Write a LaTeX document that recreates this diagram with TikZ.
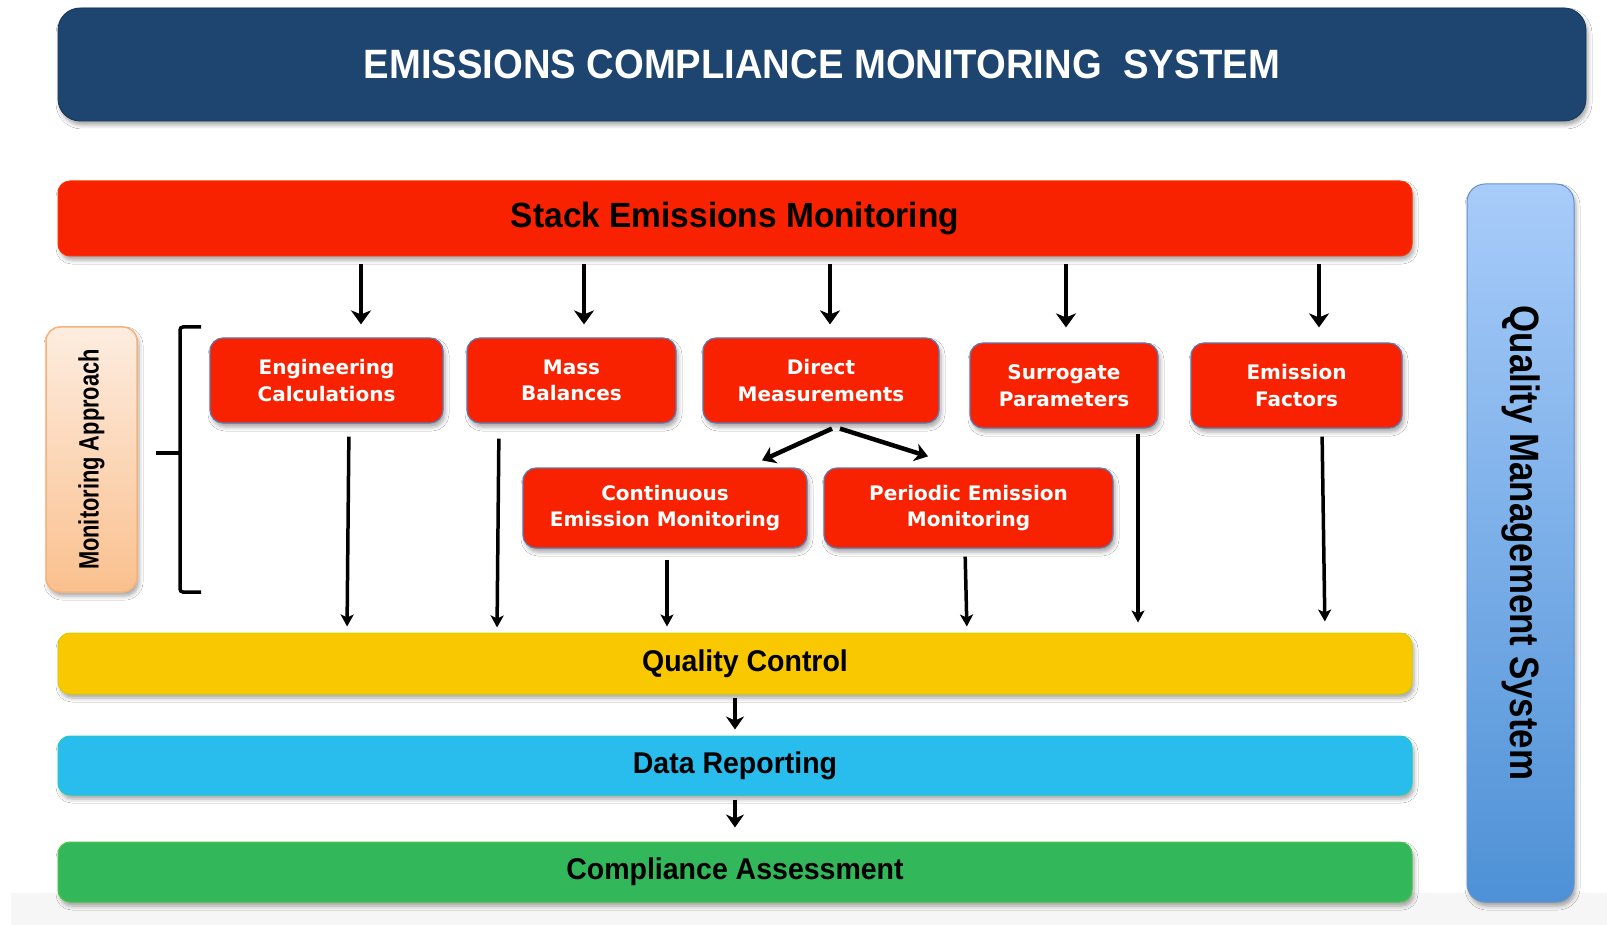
\documentclass[tikz,border=0pt]{standalone}
\usepackage{fontspec}
\usepackage{graphicx}
\setmainfont{Liberation Sans}
\newfontfamily\dvs{DejaVu Sans}
\usetikzlibrary{arrows.meta,shadows.blur}
\definecolor{titleblue}{RGB}{29,69,111}
\definecolor{boxred}{RGB}{248,34,0}
\definecolor{boxedge}{RGB}{95,120,175}
\definecolor{qcyellow}{RGB}{250,200,0}
\definecolor{drblue}{RGB}{41,189,238}
\definecolor{cagreen}{RGB}{50,184,90}
\definecolor{qmstop}{RGB}{168,204,250}
\definecolor{qmsbot}{RGB}{78,145,214}
\definecolor{qmsedge}{RGB}{100,145,205}
\definecolor{matop}{RGB}{253,237,224}
\definecolor{mabot}{RGB}{250,192,142}
\definecolor{maedge}{RGB}{245,178,122}
\definecolor{bandgray}{RGB}{246,246,246}
\begin{document}
\begin{tikzpicture}[x=1pt,y=-1pt,
  shad/.style={blur shadow={shadow xshift=2pt,shadow yshift=-4pt,shadow blur radius=4pt,shadow opacity=35}},
  titlebox/.style={rectangle,rounded corners=22pt,fill=titleblue,draw=titleblue!80!black,line width=0.8pt,
    minimum width=1528pt,minimum height=113pt,inner sep=0pt,text=white,
    font=\bfseries\fontsize{41}{48}\selectfont,shad},
  bar/.style={rectangle,rounded corners=12pt,minimum width=1354pt,inner sep=0pt,line width=1pt,shad},
  bartext/.style={font=\bfseries\fontsize{30}{36}\selectfont,text=black},
  redbox/.style={rectangle,rounded corners=13pt,fill=boxred,draw=boxedge,line width=1.2pt,text=white,
    font=\dvs\bfseries\fontsize{20}{26.5}\selectfont,align=center,inner sep=0pt,shad},
  toparr/.style={-{Stealth[length=14pt,width=20pt,inset=4pt]},line width=4.5pt},
  downarr/.style={-{Stealth[length=12pt,width=13pt,inset=3pt]},line width=3.5pt},
  midarr/.style={-{Stealth[length=13pt,width=18pt,inset=4pt]},line width=4.5pt}
]
\useasboundingbox (0,0) rectangle (1607,925);
\fill[white] (0,0) rectangle (1607,925);
\fill[bandgray] (11,893) rectangle (1607,925);

% title
\node[titlebox] (title) at (822,64.5) {\scalebox{0.932}[1]{EMISSIONS COMPLIANCE MONITORING\ \ SYSTEM}};

% stack bar
\node[bar,fill=boxred,draw=boxred!80!orange,minimum height=75pt,bartext,font=\bfseries\fontsize{35}{40}\selectfont] (stack) at (735,218.5) {\scalebox{0.956}[1]{Stack Emissions Monitoring}};

% QMS
\node[rectangle,rounded corners=18pt,top color=qmstop,bottom color=qmsbot,draw=qmsedge,line width=1pt,
  minimum width=107pt,minimum height=718pt,inner sep=0pt,shad,
  font=\bfseries\fontsize{41}{48}\selectfont] (qms) at (1520.5,543)
  {\rotatebox{-90}{\scalebox{0.85}[1]{Quality Management System}}};

% Monitoring approach
\node[rectangle,rounded corners=14pt,top color=matop,bottom color=mabot,draw=maedge,line width=1.5pt,
  minimum width=91pt,minimum height=265pt,inner sep=0pt,shad,
  font=\bfseries\fontsize{28}{32}\selectfont] (ma) at (91.5,459.5)
  {\rotatebox{90}{\scalebox{0.78}[1]{Monitoring Approach}}};

% bracket
\draw[line width=3.5pt,rounded corners=3pt] (201,327) -- (180,327) -- (180,592) -- (201,592);
\draw[line width=3.5pt] (180,453) -- (156,453);

% red boxes
\node[redbox,minimum width=233pt,minimum height=85pt] (eng) at (326.5,380.5) {Engineering\\Calculations};
\node[redbox,minimum width=209pt,minimum height=85pt] (mass) at (571.5,380.5) {Mass\\Balances};
\node[redbox,minimum width=236pt,minimum height=85pt] (direct) at (821,380.5) {Direct\\Measurements};
\node[redbox,minimum width=188pt,minimum height=85pt] (surr) at (1064,385.5) {Surrogate\\Parameters};
\node[redbox,minimum width=211pt,minimum height=85pt] (ef) at (1296.5,385.5) {Emission\\Factors};
\node[redbox,minimum width=284pt,minimum height=80pt] (cem) at (665,508) {Continuous\\Emission Monitoring};
\node[redbox,minimum width=289pt,minimum height=80pt] (pem) at (968.5,508) {Periodic Emission\\Monitoring};

% bottom bars
\node[bar,fill=qcyellow,draw=qcyellow!85!green,minimum height=61pt,bartext] (qc) at (735,663.5) {\hspace*{20pt}\scalebox{0.95}[1]{Quality Control}};
\node[bar,fill=drblue,draw=drblue!80!green,minimum height=59pt,bartext] (dr) at (735,765.5) {\scalebox{0.95}[1]{Data Reporting}};
\node[bar,fill=cagreen,draw=cagreen!85!yellow,minimum height=60pt,bartext] (ca) at (735,872) {\scalebox{0.95}[1]{Compliance Assessment}};

% top arrows
\coordinate (t1) at (361,0);
\coordinate (t2) at (584,0);
\coordinate (t3) at (830,0);
\coordinate (t4) at (1066,0);
\coordinate (t5) at (1319,0);
\draw[toparr,shorten <=8pt,shorten >=13pt] (stack.south -| t1) -- (eng.north -| t1);
\draw[toparr,shorten <=8pt,shorten >=13pt] (stack.south -| t2) -- (mass.north -| t2);
\draw[toparr,shorten <=8pt,shorten >=13pt] (stack.south -| t3) -- (direct.north -| t3);
\draw[toparr,shorten <=8pt,shorten >=15pt] (stack.south -| t4) -- (surr.north -| t4);
\draw[toparr,shorten <=8pt,shorten >=15pt] (stack.south -| t5) -- (ef.north -| t5);

% diagonal arrows
\draw[midarr] ([xshift=11pt,yshift=-5pt]direct.south) -- ([xshift=97pt,yshift=7pt]cem.north);
\draw[midarr] ([xshift=19pt,yshift=-5pt]direct.south) -- ([xshift=-40.5pt,yshift=11pt]pem.north);

% down arrows
\coordinate (d1s) at (349,0); \coordinate (d1e) at (347,0);
\coordinate (d2s) at (499,0); \coordinate (d2e) at (497,0);
\coordinate (d3) at (667,0);
\coordinate (d4s) at (965,0); \coordinate (d4e) at (967,0);
\coordinate (d5) at (1138,0);
\coordinate (d6s) at (1322,0); \coordinate (d6e) at (1325,0);
\draw[downarr,shorten <=13pt,shorten >=6pt] (eng.south -| d1s) -- (qc.north -| d1e);
\draw[downarr,shorten <=15pt,shorten >=5pt] (mass.south -| d2s) -- (qc.north -| d2e);
\draw[downarr,shorten <=11pt,shorten >=6pt] (cem.south -| d3) -- (qc.north -| d3);
\draw[downarr,shorten <=8pt,shorten >=6pt] (pem.south -| d4s) -- (qc.north -| d4e);
\draw[downarr,shorten <=5pt,shorten >=10pt] (surr.south -| d5) -- (qc.north -| d5);
\draw[downarr,shorten <=8pt,shorten >=11pt] (ef.south -| d6s) -- (qc.north -| d6e);

% between bars
\draw[midarr,shorten <=3pt,shorten >=6pt] (qc.south) -- (dr.north);
\draw[midarr,shorten <=4pt,shorten >=14pt] (dr.south) -- (ca.north);
\end{tikzpicture}
\end{document}
